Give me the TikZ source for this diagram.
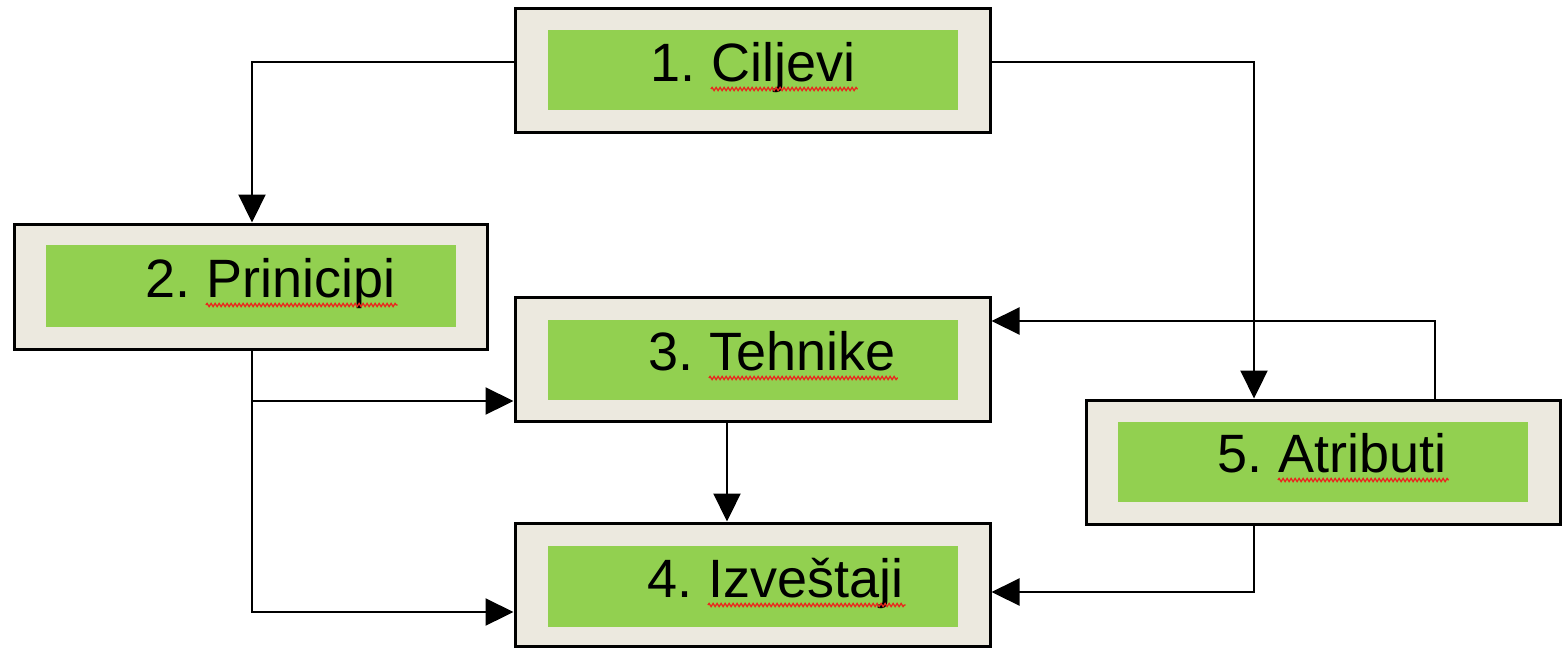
\documentclass[tikz,border=0pt]{standalone}
\usepackage{fontspec}
\setmainfont{Liberation Sans}
\usetikzlibrary{arrows.meta,decorations.pathmorphing}
\definecolor{boxbeige}{HTML}{ECE9DF}
\definecolor{boxgreen}{HTML}{92D050}
\definecolor{squig}{HTML}{E8281E}
\begin{document}
\begin{tikzpicture}[x=0.5pt,y=-0.5pt,
  outerbox/.style={draw=black, line width=1.5pt, fill=boxbeige, minimum width=237.5pt, minimum height=62pt, inner sep=0pt},
  innerbox/.style={fill=boxgreen, minimum width=205pt, minimum height=40pt, inner sep=0pt},
  lbl/.style={inner sep=0pt, anchor=base west, font=\fontsize{27pt}{32pt}\selectfont},
  arr/.style={line width=1.1pt, -{Triangle[length=14pt,width=13.5pt]}},
  wavy/.style={draw=squig, line width=0.65pt, decorate, decoration={snake, amplitude=0.8pt, segment length=2pt}}
]
\useasboundingbox (0,0) rectangle (1566,649);
% outer boxes
\node[outerbox] (c1) at (752.5,70) {};
\node[outerbox, minimum width=236.5pt, minimum height=62.5pt] (c2) at (250.5,286.5) {};
\node[outerbox] (c3) at (752.5,359) {};
\node[outerbox, minimum height=61.5pt] (c4) at (752.5,584.5) {};
\node[outerbox, minimum width=237pt] (c5) at (1323,462) {};
% inner green boxes
\node[innerbox] (g1) at (753,70) {};
\node[innerbox, minimum height=41pt] (g2) at (251,286) {};
\node[innerbox] (g3) at (753,359.5) {};
\node[innerbox, minimum height=40.5pt] (g4) at (753,586.5) {};
\node[innerbox] (g5) at (1323,462) {};
% labels
\node[lbl] (n1) at (650,81) {1.};
\node[lbl] (w1) at ([xshift=7.5pt]n1.base east) {Ciljevi};
\node[lbl] (n2) at (145,297) {2.};
\node[lbl] (w2) at ([xshift=7.5pt]n2.base east) {Prinicipi};
\node[lbl] (n3) at (648,370) {3.};
\node[lbl] (w3) at ([xshift=7.5pt]n3.base east) {Tehnike};
\node[lbl] (n4) at (647,597) {4.};
\node[lbl] (w4) at ([xshift=7.5pt]n4.base east) {Izveštaji};
\node[lbl] (n5) at (1217,472) {5.};
\node[lbl] (w5) at ([xshift=7.5pt]n5.base east) {Atributi};
% spell-check underlines
\foreach \w in {w1,w2,w3,w4,w5}{
  \path[wavy] ([yshift=-4pt]\w.base west) -- ([xshift=1pt,yshift=-4pt]\w.base east);
}
% connectors
\draw[arr] ([yshift=4pt]c1.west) -| ([xshift=0.75pt]c2.north);
\draw[arr] ([yshift=4pt]c1.east) -| ([xshift=-34.5pt]c5.north);
\draw[arr] ([xshift=56pt]c5.north) |- ([yshift=19pt]c3.east);
\coordinate (t3in) at ([yshift=-21pt]c3.west);
\coordinate (t4in) at ([yshift=-13.75pt]c4.west);
\draw[arr] ([xshift=0.75pt]c2.south) |- (t4in);
\draw[arr] ([xshift=0.75pt]c2.south |- t3in) -- (t3in);
\draw[arr] ([xshift=-12.75pt]c3.south) -- ([xshift=-12.75pt]c4.north);
\draw[arr] ([xshift=-34.5pt]c5.south) |- ([yshift=-3.75pt]c4.east);
\end{tikzpicture}
\end{document}
